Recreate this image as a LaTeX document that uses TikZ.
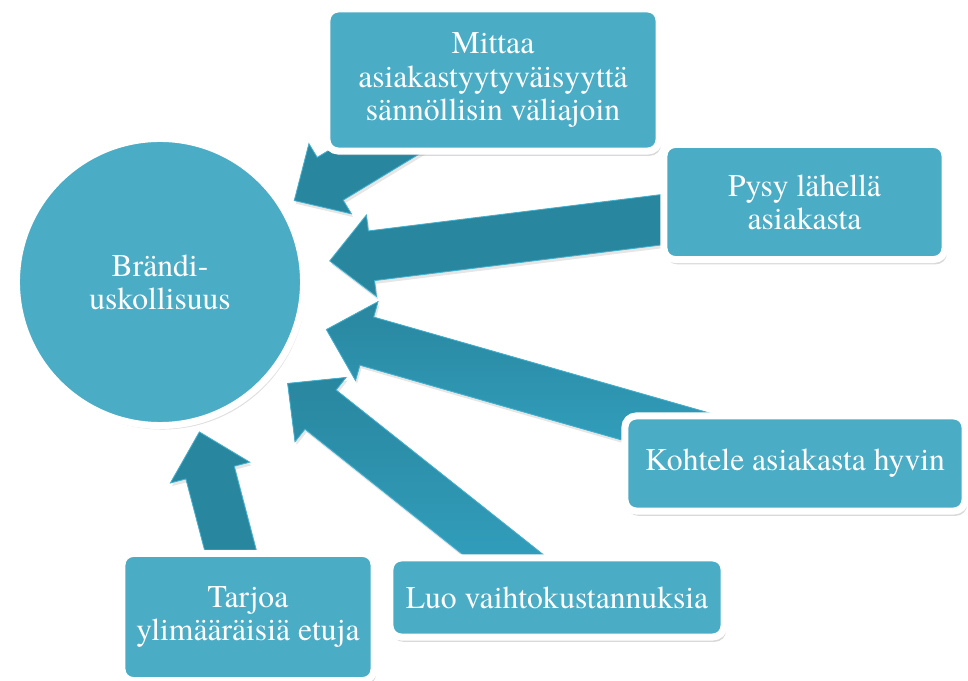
\documentclass[tikz,border=0pt]{standalone}
\usepackage{fontspec}
\setmainfont{TeX Gyre Termes}
\usetikzlibrary{calc, shadows, backgrounds}

\definecolor{tealfill}{RGB}{75,172,198}
\definecolor{arrowdark}{RGB}{41,134,159}
\definecolor{arrowlight}{RGB}{52,165,196}
\definecolor{arrowrim}{RGB}{66,176,206}

% block arrow: #2 = tail, #3 = tip
\newcommand{\blockarrow}[3][]{%
  \coordinate (hb) at ($(#3)!1.05cm!(#2)$);
  \path[arrowbody, #1] ($(#2)!0.625cm!90:(#3)$) -- ($(hb)!0.625cm!90:(#3)$)
    -- ($(hb)!1.025cm!90:(#3)$) -- (#3) -- ($(hb)!1.025cm!-90:(#3)$)
    -- ($(hb)!0.625cm!-90:(#3)$) -- ($(#2)!0.625cm!-90:(#3)$) -- cycle;
}

\begin{document}
\begin{tikzpicture}[x=0.025cm, y=-0.025cm,
    txt/.style={text=white, font=\fontsize{22.5}{23.5}\selectfont, align=center},
    hub/.style={txt, circle, fill=tealfill, draw=white, line width=0.175cm, minimum size=7.175cm, inner sep=0pt,
      drop shadow={opacity=0.25, shadow xshift=0.06cm, shadow yshift=-0.1cm}},
    box/.style={txt, rectangle, rounded corners=0.28cm, fill=tealfill, draw=white, line width=0.175cm, inner sep=0pt,
      drop shadow={opacity=0.3, shadow xshift=0.05cm, shadow yshift=-0.12cm}},
    arrowbody/.style={fill=arrowdark, draw=arrowrim, line width=0.6pt,
      drop shadow={opacity=0.2, shadow xshift=0.04cm, shadow yshift=-0.08cm}},
    shadedarrow/.style={top color=arrowdark, bottom color=arrowlight},
]
\useasboundingbox (0,0) rectangle (968,681);

\node[hub] (brand) at (160,282) {Brändi-\\uskollisuus};

\node[box, minimum width=8.3cm, minimum height=3.55cm] (mittaa) at (493,80) {Mittaa\\asiakastyytyväisyyttä\\sännöllisin väliajoin};
\node[box, minimum width=7.025cm, minimum height=2.875cm] (pysy) at (804.5,202) {Pysy lähellä\\asiakasta};
\node[box, minimum width=8.5cm, minimum height=2.375cm] (kohtele) at (795,463.5) {Kohtele asiakasta hyvin};
\node[box, minimum width=8.35cm, minimum height=1.975cm] (luo) at (557,597.5) {Luo vaihtokustannuksia};
\node[box, minimum width=6.3cm, minimum height=3.175cm] (tarjoa) at (248,617) {Tarjoa\\ylimääräisiä etuja};

% arrow tips, on the line to the centre of the circle
\coordinate (tip1) at ($(brand.center)!3.925cm!(mittaa.center)$);
\coordinate (tip2) at ($(brand.center)!4.275cm!(pysy.center)$);
\coordinate (tip3) at ($(brand.center)!4.325cm!(kohtele.center)$);
\coordinate (tip4) at ($(brand.center)!4.075cm!(luo.center)$);
\coordinate (tip5) at ($(brand.center)!3.875cm!(tarjoa.center)$);

\begin{scope}[on background layer]
\blockarrow{mittaa.center}{tip1}
\blockarrow{pysy.center}{tip2}
\blockarrow[shadedarrow]{kohtele.center}{tip3}
\blockarrow[shadedarrow]{luo.center}{tip4}
\blockarrow{tarjoa.center}{tip5}
\end{scope}
\end{tikzpicture}
\end{document}
